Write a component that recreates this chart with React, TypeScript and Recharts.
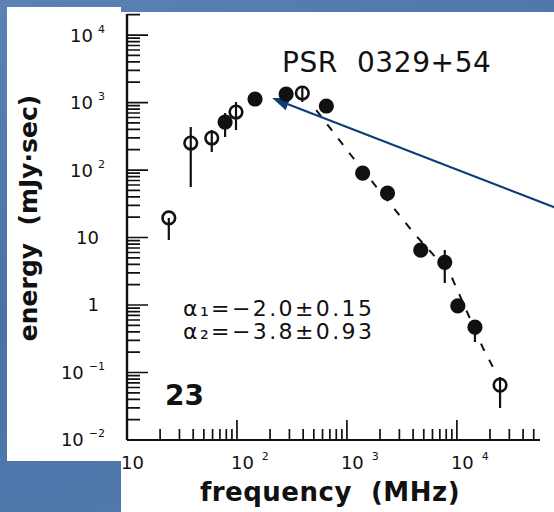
import React from "react";
import { ComposedChart, Scatter, Line, XAxis, YAxis, ErrorBar, ReferenceLine } from "recharts";

// PSR 0329+54 energy spectrum
const freqMHz = [24, 38, 59, 78, 98, 146, 280, 393, 650, 1390, 2340, 4690, 7760, 10200, 14600, 24700];
const energy = [19.5, 251, 298, 514, 722, 1128, 1336, 1384, 888, 90, 45.6, 6.5, 4.3, 0.97, 0.47, 0.065];
const energyLow = [9.2, 56, 185, 308, 392, 1128, 1336, 1016, 888, 90, 45.6, 6.5, 2.12, 0.97, 0.283, 0.0298];
const energyHigh = [19.5, 434, 392, 698, 1016, 1128, 1336, 1700, 888, 90, 45.6, 6.5, 6.53, 0.97, 0.55, 0.0857];
const filled = [0, 0, 0, 1, 0, 1, 1, 0, 1, 1, 1, 1, 1, 1, 1, 0];

// dashed fit
const fitFreq = [526, 1122, 1858, 3148, 3963, 8630, 17260, 23200];
const fitEnergy = [774, 156, 56, 19.5, 12.1, 2.98, 0.231, 0.0918];

// arrow annotation (tail off to the right, head on the 146 MHz point)
const arrowFrom = { f: 76900, e: 28 };
const arrowTo = { f: 209, e: 1166 };

const yMajor = [0.01, 0.1, 1, 10, 100, 1000, 10000];
const yLabels = [["10", "−2"], ["10", "−1"], ["1", ""], ["10", ""], ["10", "2"], ["10", "3"], ["10", "4"]];
const xMajor = [10, 100, 1000, 10000];
const xLabels = [["10", ""], ["10", "2"], ["10", "3"], ["10", "4"]];
const minorSteps = [2, 3, 4, 5, 6, 7, 8, 9];

const yMinor: number[] = [];
yMajor.slice(0, -1).forEach((d) => minorSteps.forEach((m) => yMinor.push(m * d)));
yMinor.push(20000);
const xMinor: number[] = [];
xMajor.slice(0, -1).forEach((d) => minorSteps.forEach((m) => xMinor.push(m * d)));
[20000, 30000, 40000, 50000].forEach((v) => xMinor.push(v));

const X_DOMAIN = [10, 57000];
const Y_DOMAIN = [0.01, 20500];

const points = freqMHz.map((f, i) => ({
  f,
  e: energy[i],
  err: [energy[i] - energyLow[i], energyHigh[i] - energy[i]],
  filled: filled[i],
}));
const openPts = points.filter((p) => !p.filled);
const filledPts = points.filter((p) => p.filled);
const fitData = fitFreq.map((f, i) => ({ f, e: fitEnergy[i] }));

const INK = "#111";
const FONT = "'DejaVu Sans', 'Liberation Sans', sans-serif";

const YTick = (props: any) => {
  const x = Number(props.x);
  const y = Number(props.y);
  const i = yMajor.indexOf(props.payload.value);
  if (i < 0) return <g />;
  return (
    <text
      x={yLabels[i][1] ? x - 22 : x - 28}
      y={y}
      dy="0.36em"
      textAnchor="end"
      fontSize={18}
      fill={INK}
      stroke="none"
      fontFamily={FONT}
    >
      {yLabels[i][0]}
      {yLabels[i][1] && (
        <tspan dx={5} dy={-9} fontSize={11}>
          {yLabels[i][1]}
        </tspan>
      )}
    </text>
  );
};

const XTick = (props: any) => {
  const x = Number(props.x);
  const y = Number(props.y);
  const i = xMajor.indexOf(props.payload.value);
  if (i < 0) return <g />;
  return (
    <text x={x - 6} y={y + 29} textAnchor="start" fontSize={18} fill={INK} stroke="none" fontFamily={FONT}>
      {xLabels[i][0]}
      {xLabels[i][1] && (
        <tspan dx={8} dy={-9} fontSize={11}>
          {xLabels[i][1]}
        </tspan>
      )}
    </text>
  );
};

// inward log tick marks, laid out between the plot corners handed over by a corner-to-corner segment
const AxisTicks = (props: any) => {
  const x1 = Number(props.x1);
  const y1 = Number(props.y1);
  const x2 = Number(props.x2);
  const y2 = Number(props.y2);
  const l = Math.log10;
  const px = (v: number) => x1 + ((l(v) - l(X_DOMAIN[0])) / (l(X_DOMAIN[1]) - l(X_DOMAIN[0]))) * (x2 - x1);
  const py = (v: number) => y1 + ((l(v) - l(Y_DOMAIN[0])) / (l(Y_DOMAIN[1]) - l(Y_DOMAIN[0]))) * (y2 - y1);
  const left = Math.min(x1, x2);
  const bottom = Math.max(y1, y2);
  let d = "";
  yMajor.forEach((v) => (d += `M${left},${py(v)}h21`));
  yMinor.forEach((v) => (d += `M${left},${py(v)}h13`));
  xMajor.forEach((v) => (d += `M${px(v)},${bottom}v-20`));
  xMinor.forEach((v) => (d += `M${px(v)},${bottom}v-11`));
  return <path d={d} stroke={INK} strokeWidth={1.7} fill="none" />;
};

const Dot = (fill: boolean) => (props: any) =>
  <circle cx={props.cx} cy={props.cy} r={6.3} fill={fill ? INK : "none"} stroke={INK} strokeWidth={2.6} />;

const Arrow = (props: any) => {
  const { x1, y1, x2, y2 } = props;
  const dx = x2 - x1;
  const dy = y2 - y1;
  const len = Math.sqrt(dx * dx + dy * dy);
  const ux = dx / len;
  const uy = dy / len;
  const hl = 17;
  const hw = 6.5;
  const bx = x2 - ux * hl;
  const by = y2 - uy * hl;
  return (
    <g>
      <line x1={x1} y1={y1} x2={bx} y2={by} stroke="#0d3c78" strokeWidth={2.2} />
      <polygon
        points={`${x2},${y2} ${bx - uy * hw},${by + ux * hw} ${bx + uy * hw},${by - ux * hw}`}
        fill="#0d3c78"
      />
    </g>
  );
};

const pre = { whiteSpace: "pre" as const };

export default function App() {
  return (
    <div
      style={{
        position: "absolute",
        left: 0,
        top: 0,
        width: 554,
        height: 512,
        overflow: "hidden",
        background: "linear-gradient(160deg, #5a82b4 0%, #4a72a6 45%, #557db0 100%)",
      }}
    >
      <div style={{ position: "absolute", left: 7, top: 7, width: 114, height: 454, background: "#fff" }} />
      <div style={{ position: "absolute", left: 121, top: 12, width: 433, height: 500, background: "#fff" }} />
      <div style={{ position: "absolute", left: 0, top: 0 }}>
        <ComposedChart
          width={554}
          height={512}
          margin={{ top: 14, right: 14, bottom: 0, left: 0 }}
          style={{ fontFamily: FONT }}
        >
          <XAxis
            xAxisId="b"
            dataKey="f"
            type="number"
            scale="log"
            domain={X_DOMAIN}
            allowDataOverflow
            ticks={xMajor}
            interval={0}
            tick={<XTick />}
            tickLine={false}
            tickSize={0}
            tickMargin={0}
            height={72}
            axisLine={{ stroke: INK, strokeWidth: 2 }}
          />
          <XAxis
            xAxisId="t"
            orientation="top"
            type="number"
            scale="log"
            domain={X_DOMAIN}
            tick={false}
            tickLine={false}
            height={0}
            axisLine={{ stroke: "#333", strokeWidth: 1.6 }}
          />
          <YAxis
            yAxisId="l"
            dataKey="e"
            type="number"
            scale="log"
            domain={Y_DOMAIN}
            allowDataOverflow
            ticks={yMajor}
            interval={0}
            tick={<YTick />}
            tickLine={false}
            tickSize={0}
            tickMargin={0}
            width={127}
            axisLine={{ stroke: INK, strokeWidth: 2.4 }}
          />
          <YAxis
            yAxisId="r"
            orientation="right"
            type="number"
            scale="log"
            domain={Y_DOMAIN}
            tick={false}
            tickLine={false}
            width={0}
            axisLine={{ stroke: "#333", strokeWidth: 1.6 }}
          />
          <ReferenceLine
            xAxisId="b"
            yAxisId="l"
            segment={[
              { x: X_DOMAIN[0], y: Y_DOMAIN[0] },
              { x: X_DOMAIN[1], y: Y_DOMAIN[1] },
            ]}
            ifOverflow="visible"
            shape={<AxisTicks />}
          />
          <Line
            xAxisId="b"
            yAxisId="l"
            data={fitData}
            dataKey="e"
            type="linear"
            stroke={INK}
            strokeWidth={2}
            strokeDasharray="8 10"
            dot={false}
            activeDot={false}
            isAnimationActive={false}
          />
          <Scatter xAxisId="b" yAxisId="l" data={openPts} dataKey="e" shape={Dot(false)} isAnimationActive={false}>
            <ErrorBar dataKey="err" direction="y" width={0} stroke={INK} strokeWidth={2.2} isAnimationActive={false} />
          </Scatter>
          <Scatter xAxisId="b" yAxisId="l" data={filledPts} dataKey="e" shape={Dot(true)} isAnimationActive={false}>
            <ErrorBar dataKey="err" direction="y" width={0} stroke={INK} strokeWidth={2.2} isAnimationActive={false} />
          </Scatter>
          <ReferenceLine
            xAxisId="b"
            yAxisId="l"
            segment={[
              { x: arrowFrom.f, y: arrowFrom.e },
              { x: arrowTo.f, y: arrowTo.e },
            ]}
            ifOverflow="visible"
            shape={<Arrow />}
          />
          <text x={282} y={72} fontSize={28} fill={INK} fontFamily={FONT} style={pre} letterSpacing={0.6}>
            {"PSR  0329+54"}
          </text>
          <text x={183} y={316} fontSize={22} fill={INK} fontFamily={FONT} letterSpacing={2.4}>
            α₁=−2.0±0.15
          </text>
          <text x={183} y={339} fontSize={22} fill={INK} fontFamily={FONT} letterSpacing={2.4}>
            α₂=−3.8±0.93
          </text>
          <text x={165} y={405} fontSize={28} fontWeight="bold" fill={INK} fontFamily={FONT}>
            23
          </text>
          <text
            x={28}
            y={218}
            transform="rotate(-90 28 218)"
            dy="0.36em"
            textAnchor="middle"
            fontSize={25}
            fontWeight="bold"
            fill={INK}
            fontFamily={FONT}
            style={pre}
          >
            {"energy  (mJy·sec)"}
          </text>
          <text
            x={330}
            y={501}
            textAnchor="middle"
            fontSize={26}
            fontWeight="bold"
            letterSpacing={0.5}
            fill={INK}
            fontFamily={FONT}
            style={pre}
          >
            {"frequency  (MHz)"}
          </text>
        </ComposedChart>
      </div>
    </div>
  );
}
